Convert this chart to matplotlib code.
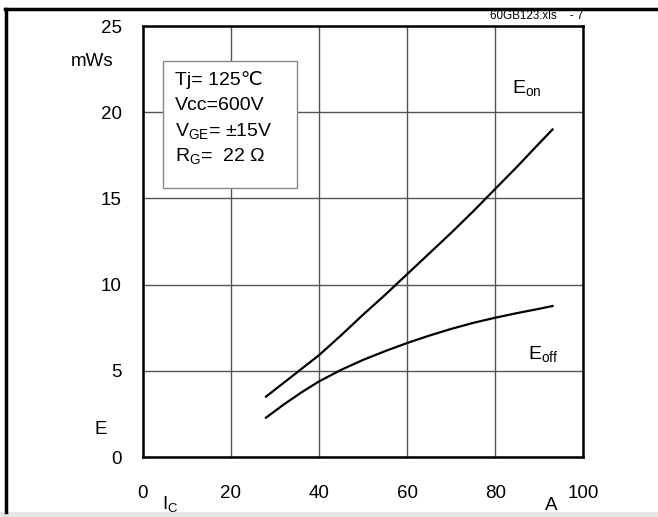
import numpy as np
import matplotlib
matplotlib.use("Agg")
import matplotlib.pyplot as plt
from matplotlib.patches import Rectangle
from matplotlib.lines import Line2D

plt.rcParams['font.family'] = ['Liberation Sans', 'DejaVu Sans']
plt.rcParams['mathtext.fontset'] = 'custom'
plt.rcParams['mathtext.rm'] = 'Liberation Sans'
plt.rcParams['mathtext.it'] = 'Liberation Sans:italic'

# switching energy vs collector current, Tj = 125 C
ic = [28, 32, 36, 40, 45, 50, 55, 60, 65, 70, 75, 80, 85, 90, 93]
e_on = [3.5, 4.3, 5.1, 5.9, 7.05, 8.25, 9.4, 10.6, 11.8, 13.0, 14.25, 15.55, 16.85, 18.2, 19.0]
e_off = [2.28, 3.04, 3.74, 4.38, 5.05, 5.63, 6.14, 6.61, 7.04, 7.43, 7.78, 8.08, 8.35, 8.6, 8.76]

x_ticks = [0, 20, 40, 60, 80, 100]
y_ticks = [0, 5, 10, 15, 20, 25]
cond_lines = ["Tj= 125\u2103", "Vcc=600V",
              "$\\mathregular{V_{GE}}$= \u00b115V", "$\\mathregular{R_{G}}$=  22 \u03a9"]

fig = plt.figure(figsize=(6.58, 5.17), dpi=100)
ax = fig.add_axes([0.2166, 0.116, 0.670, 0.8337])

ax.plot(ic, e_on, color='black', lw=1.6, zorder=3)
ax.plot(ic, e_off, color='black', lw=1.6, zorder=3)

ax.set_xlim(0, 100)
ax.set_ylim(0, 25)
ax.set_xticks(x_ticks)
ax.set_yticks(y_ticks)
ax.tick_params(length=0, labelsize=13.5)
ax.tick_params(axis='x', pad=20)
ax.tick_params(axis='y', pad=15)
ax.grid(True, color='#555555', lw=1.0)
ax.set_axisbelow(True)
for s in ax.spines.values():
    s.set_linewidth(1.8)

# condition box
ax.add_patch(Rectangle((0.046, 0.624), 0.305, 0.295, transform=ax.transAxes,
                       facecolor='white', edgecolor='#888888', lw=1.0, zorder=2))
for i, t in enumerate(cond_lines):
    ax.text(0.074, 0.875 - i * 0.059, t, transform=ax.transAxes,
            fontsize=14, va='center', ha='left', zorder=4)

ax.text(83.8, 21.4, "$\\mathregular{E_{on}}$", fontsize=14, va='center')
ax.text(87.4, 6.0, "$\\mathregular{E_{off}}$", fontsize=14, va='center')

# axis captions
fig.text(92 / 658, 1 - 61 / 517, "mWs", fontsize=13.5, ha='center', va='center')
fig.text(101 / 658, 1 - 429 / 517, "E", fontsize=13.5, ha='center', va='center')
fig.text(170 / 658, 1 - 504 / 517, "$\\mathregular{I_{C}}$", fontsize=13.5, ha='center', va='center')
fig.text(551 / 658, 1 - 506 / 517, "A", fontsize=13.5, ha='center', va='center')
fig.text(583 / 658, 1 - 16 / 517, "60GB123.xls    - 7", fontsize=8.4, ha='right', va='center')

# page frame
fig.add_artist(Line2D([5 / 658, 1], [1 - 8.5 / 517] * 2, color='black', lw=2.5))
fig.add_artist(Line2D([6 / 658] * 2, [1 - 8.5 / 517, 5 / 517], color='black', lw=2.5))
fig.add_artist(Rectangle((0, 0), 1, 5 / 517, transform=fig.transFigure,
                         facecolor='#e6e6e6', edgecolor='none'))

fig.savefig("out.png", dpi=100)
